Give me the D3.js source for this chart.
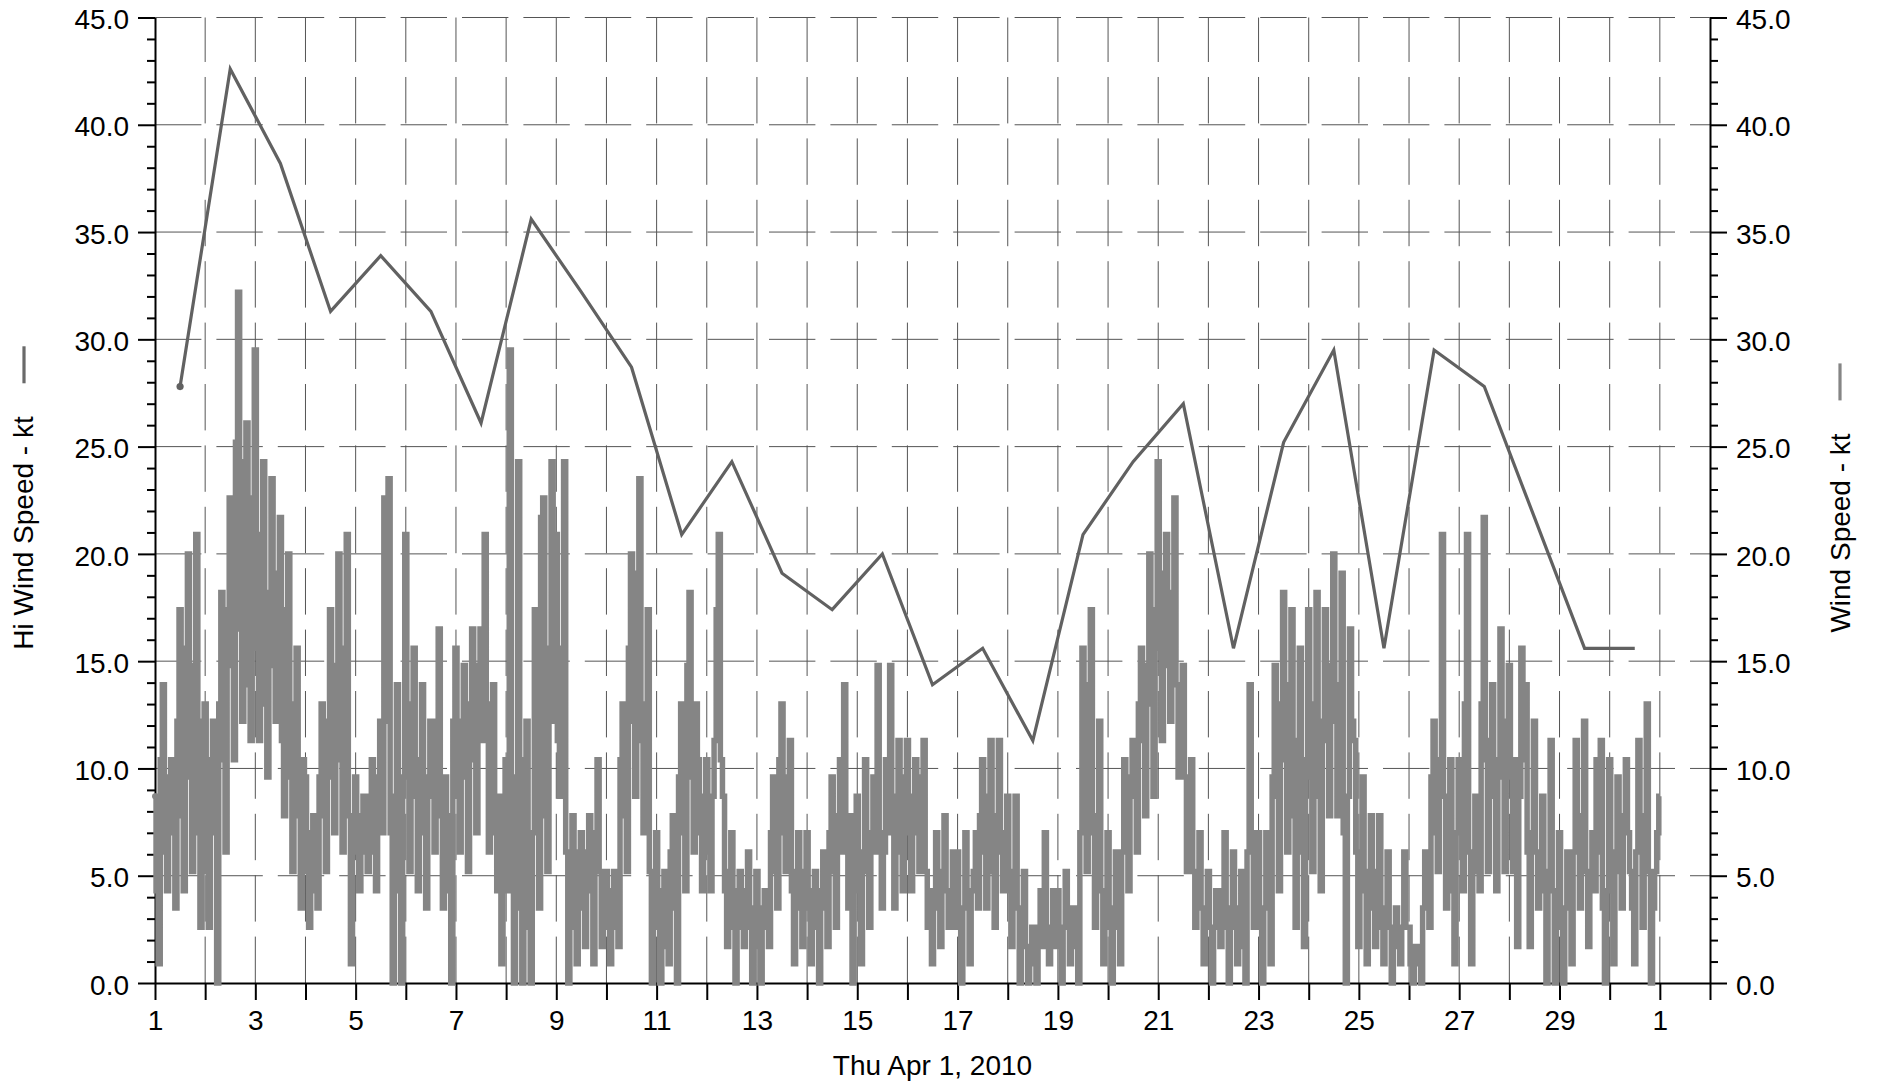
<!DOCTYPE html>
<html>
<head>
<meta charset="utf-8">
<script src="https://cdn.jsdelivr.net/npm/d3@7"></script>
<style>
  body { margin: 0; background: #fff; }
  svg { display: block; font-family: "Liberation Sans", Arial, sans-serif; }
</style>
</head>
<body>
<div id="container"></div>
<script>
// Hi wind speed (kt), one reading per day, plotted at noon, Apr 1 - Apr 30
var hiWindDays = [1, 2, 3, 4, 5, 6, 7, 8, 9, 10, 11, 12, 13, 14, 15,
                  16, 17, 18, 19, 20, 21, 22, 23, 24, 25, 26, 27, 28, 29, 30];
var hiWindSpeed = [27.8, 42.6, 38.2, 31.3, 33.9, 31.3, 26.1, 35.6, 32.2, 28.7,
                   20.9, 24.3, 19.1, 17.4, 20.0, 13.9, 15.6, 11.3, 20.9, 24.3,
                   27.0, 15.6, 25.2, 29.5, 15.6, 29.5, 27.8, 21.7, 15.6, 15.6];

// Wind speed (kt), hourly from Apr 1 00:00 to May 1 00:00 (one row per day)
var windStepHours = 1;
var windSpeed = [
  8.7, 4.3, 0.9, 10.4, 13.9, 6.1, 4.3, 9.6, 10.4, 7.0, 3.5, 12.2, 17.4, 7.8, 4.3, 15.6, 20.0, 9.6, 5.2, 14.8, 20.9, 7.0, 2.6, 12.2,
  13.0, 5.2, 2.6, 10.4, 12.2, 7.0, 0, 13.0, 18.2, 10.4, 6.1, 17.4, 22.6, 14.8, 10.4, 25.2, 32.2, 16.5, 12.2, 24.3, 26.1, 13.9, 11.3, 22.6,
  29.5, 15.6, 11.3, 20.9, 24.3, 13.0, 9.6, 18.2, 23.5, 14.8, 12.2, 19.1, 21.7, 11.3, 7.8, 17.4, 20.0, 9.6, 5.2, 13.0, 15.6, 7.8, 3.5, 10.4,
  9.6, 5.2, 2.6, 7.0, 7.8, 4.3, 3.5, 9.6, 13.0, 7.8, 5.2, 12.2, 17.4, 9.6, 7.0, 14.8, 20.0, 10.4, 6.1, 15.6, 20.9, 7.8, 0.9, 6.1,
  9.6, 6.1, 4.3, 7.8, 8.7, 6.1, 5.2, 8.7, 10.4, 6.1, 4.3, 9.6, 12.2, 7.0, 22.6, 12.2, 23.5, 7.0, 0, 8.7, 13.9, 4.3, 0, 9.6,
  20.9, 10.4, 5.2, 13.0, 15.6, 8.7, 4.3, 10.4, 13.9, 7.0, 3.5, 9.6, 12.2, 8.7, 6.1, 12.2, 16.5, 7.8, 3.5, 9.6, 7.8, 4.3, 0, 12.2,
  15.6, 8.7, 6.1, 12.2, 14.8, 9.6, 5.2, 13.0, 16.5, 10.4, 7.0, 14.8, 16.5, 11.3, 20.9, 13.0, 6.1, 10.4, 13.9, 7.0, 4.3, 8.7, 0.9, 7.0,
  10.4, 4.3, 29.5, 7.0, 0, 9.6, 24.3, 3.5, 0, 10.4, 12.2, 2.6, 0, 7.0, 17.4, 8.7, 3.5, 21.7, 22.6, 7.8, 5.2, 15.6, 24.3, 12.2,
  20.9, 11.3, 8.7, 15.6, 24.3, 6.1, 0, 5.2, 7.8, 2.6, 0.9, 6.1, 7.0, 3.5, 1.7, 6.1, 7.8, 4.3, 0.9, 7.0, 10.4, 5.2, 1.7, 4.3,
  5.2, 2.6, 0.9, 4.3, 5.2, 2.6, 1.7, 10.4, 13.0, 7.8, 5.2, 15.6, 20.0, 12.2, 8.7, 19.1, 23.5, 11.3, 7.0, 13.0, 17.4, 5.2, 0, 3.5,
  7.0, 2.6, 0, 4.3, 5.2, 1.7, 0.9, 6.1, 7.8, 3.5, 0, 9.6, 13.0, 7.0, 4.3, 14.8, 18.2, 9.6, 6.1, 13.0, 10.4, 7.0, 4.3, 8.7,
  10.4, 6.1, 4.3, 8.7, 11.3, 17.4, 20.9, 10.4, 8.7, 4.3, 1.7, 5.2, 7.0, 2.6, 0, 4.3, 5.2, 2.6, 1.7, 4.3, 6.1, 2.6, 0, 3.5,
  5.2, 1.7, 0, 3.5, 4.3, 2.6, 1.7, 7.0, 9.6, 5.2, 3.5, 10.4, 13.0, 7.0, 5.2, 9.6, 11.3, 4.3, 0.9, 5.2, 7.0, 3.5, 1.7, 5.2,
  7.0, 3.5, 0.9, 4.3, 5.2, 2.6, 0, 4.3, 6.1, 3.5, 1.7, 7.0, 9.6, 5.2, 2.6, 7.8, 10.4, 6.1, 13.9, 7.0, 3.5, 7.8, 0, 5.2,
  8.7, 4.3, 0.9, 6.1, 10.4, 5.2, 2.6, 7.0, 9.6, 6.1, 14.8, 7.0, 3.5, 6.1, 10.4, 7.0, 14.8, 7.8, 3.5, 8.7, 11.3, 6.1, 4.3, 9.6,
  11.3, 7.0, 4.3, 8.7, 10.4, 7.0, 5.2, 9.6, 11.3, 5.2, 2.6, 4.3, 0.9, 3.5, 7.0, 3.5, 1.7, 5.2, 7.8, 4.3, 2.6, 4.3, 6.1, 2.6,
  6.1, 2.6, 0, 3.5, 7.0, 3.5, 0.9, 4.3, 5.2, 7.0, 3.5, 7.8, 10.4, 6.1, 3.5, 8.7, 11.3, 5.2, 2.6, 7.8, 11.3, 6.1, 4.3, 7.0,
  8.7, 4.3, 1.7, 5.2, 8.7, 3.5, 0, 2.6, 5.2, 1.7, 0, 1.7, 2.6, 0.9, 0, 2.6, 4.3, 1.7, 7.0, 2.6, 0.9, 2.6, 4.3, 1.7,
  4.3, 1.7, 0, 2.6, 5.2, 2.6, 0.9, 3.5, 3.5, 1.7, 0, 7.0, 15.6, 9.6, 5.2, 13.9, 17.4, 7.0, 2.6, 7.8, 12.2, 4.3, 0.9, 4.3,
  7.0, 2.6, 0, 3.5, 6.1, 2.6, 0.9, 6.1, 10.4, 7.0, 4.3, 9.6, 11.3, 8.7, 6.1, 13.0, 15.6, 11.3, 7.8, 14.8, 20.0, 13.0, 8.7, 17.4,
  24.3, 15.6, 11.3, 19.1, 20.9, 14.8, 12.2, 18.2, 22.6, 13.9, 9.6, 13.0, 14.8, 9.6, 5.2, 8.7, 10.4, 5.2, 2.6, 5.2, 7.0, 3.5, 0.9, 3.5,
  5.2, 2.6, 0, 2.6, 4.3, 2.6, 1.7, 4.3, 7.0, 2.6, 0, 3.5, 6.1, 2.6, 0.9, 3.5, 5.2, 1.7, 0, 6.1, 13.9, 7.0, 2.6, 5.2,
  7.0, 2.6, 0, 3.5, 7.0, 3.5, 0.9, 9.6, 14.8, 8.7, 4.3, 13.0, 18.2, 10.4, 6.1, 13.9, 17.4, 7.8, 2.6, 11.3, 15.6, 6.1, 1.7, 10.4,
  17.4, 9.6, 5.2, 13.0, 18.2, 8.7, 4.3, 12.2, 17.4, 11.3, 7.8, 14.8, 20.0, 12.2, 7.8, 13.9, 19.1, 7.0, 0, 8.7, 16.5, 12.2, 11.3, 6.1,
  1.7, 6.1, 9.6, 4.3, 0.9, 5.2, 7.8, 3.5, 1.7, 5.2, 7.8, 2.6, 0.9, 3.5, 6.1, 2.6, 0, 1.7, 3.5, 1.7, 0.9, 2.6, 6.1, 2.6,
  2.6, 0.9, 0, 1.7, 1.7, 0.9, 0, 3.5, 6.1, 4.3, 2.6, 9.6, 12.2, 7.0, 5.2, 10.4, 20.9, 8.7, 3.5, 7.8, 10.4, 4.3, 0.9, 7.0,
  10.4, 7.0, 4.3, 13.0, 20.9, 6.1, 0.9, 5.2, 8.7, 6.1, 4.3, 13.0, 21.7, 10.4, 5.2, 11.3, 13.9, 8.7, 4.3, 10.4, 16.5, 9.6, 5.2, 12.2,
  14.8, 9.6, 5.2, 10.4, 1.7, 8.7, 15.6, 10.4, 13.9, 6.1, 1.7, 7.0, 12.2, 6.1, 3.5, 6.1, 8.7, 4.3, 0, 5.2, 11.3, 4.3, 0, 3.5,
  7.0, 2.6, 0, 3.5, 6.1, 3.5, 0.9, 6.1, 11.3, 6.1, 3.5, 7.8, 12.2, 5.2, 1.7, 4.3, 7.0, 4.3, 10.4, 6.1, 11.3, 3.5, 0, 4.3,
  10.4, 5.2, 0.9, 6.1, 9.6, 5.2, 3.5, 7.8, 10.4, 7.0, 5.2, 3.5, 0.9, 6.1, 11.3, 6.1, 2.6, 7.8, 13.0, 5.2, 0, 3.5, 5.2, 7.0,
  8.7
];

// Tick values and labels
var yTickValues = [0, 5, 10, 15, 20, 25, 30, 35, 40, 45];
var xAxisTitle = "Thu Apr 1, 2010";
var leftTitle = "Hi Wind Speed - kt";
var rightTitle = "Wind Speed - kt";

// Size of the SVG and of the plot box
var width = 1877;
var height = 1088;
var plotLeft = 155, plotRight = 1710, plotTop = 17.5, plotBottom = 983;

var startDate = new Date(2010, 3, 1);
var endDate = new Date(2010, 4, 2);

var x = d3.scaleTime().domain([startDate, endDate]).range([plotLeft, plotRight]);
var y = d3.scaleLinear().domain([0, 45]).range([plotBottom, plotTop]);

var svg = d3.select("#container")
    .append("svg")
    .attr("width", width)
    .attr("height", height);

// Dashed grid
var grid = svg.append("g").attr("stroke", "#555").attr("stroke-width", 1)
    .attr("stroke-dasharray", "46.4 15").attr("fill", "none");

grid.selectAll("line.h")
    .data(yTickValues.filter(function(d) { return d > 0; }))
    .enter()
    .append("line")
    .attr("class", "h")
    .attr("x1", plotLeft).attr("x2", plotRight)
    .attr("y1", function(d) { return y(d); })
    .attr("y2", function(d) { return y(d); });

grid.selectAll("line.v")
    .data(d3.timeDay.range(d3.timeDay.offset(startDate, 1), endDate))
    .enter()
    .append("line")
    .attr("class", "v")
    .attr("x1", function(d) { return x(d); })
    .attr("x2", function(d) { return x(d); })
    .attr("y1", plotBottom).attr("y2", plotTop);

// Axes
function styleAxis(g) {
    g.selectAll("path.domain").attr("stroke", "#000").attr("stroke-width", 2);
    g.selectAll(".tick line").attr("stroke", "#000").attr("stroke-width", 2);
    g.selectAll(".tick text").attr("fill", "#000").attr("font-size", 28)
        .attr("font-family", "'Liberation Sans', Arial, sans-serif");
}

var minorY = d3.range(0, 46).filter(function(d) { return d % 5 !== 0; });

// left
var leftMinor = svg.append("g").attr("transform", "translate(" + plotLeft + ",0)")
    .call(d3.axisLeft(y).tickValues(minorY).tickSize(8).tickFormat(""));
leftMinor.select("path.domain").remove();
styleAxis(leftMinor);
var leftAxis = svg.append("g").attr("transform", "translate(" + plotLeft + ",0)")
    .call(d3.axisLeft(y).tickValues(yTickValues).tickSize(17).tickSizeOuter(0)
        .tickPadding(9).tickFormat(d3.format(".1f")));
styleAxis(leftAxis);
leftAxis.selectAll(".tick text").attr("dy", "0.4em");

// right
var rightMinor = svg.append("g").attr("transform", "translate(" + plotRight + ",0)")
    .call(d3.axisRight(y).tickValues(minorY).tickSize(8).tickFormat(""));
rightMinor.select("path.domain").remove();
styleAxis(rightMinor);
var rightAxis = svg.append("g").attr("transform", "translate(" + plotRight + ",0)")
    .call(d3.axisRight(y).tickValues(yTickValues).tickSize(17).tickSizeOuter(0)
        .tickPadding(9).tickFormat(d3.format(".1f")));
styleAxis(rightAxis);
rightAxis.selectAll(".tick text").attr("dy", "0.4em");

// bottom: a tick every day, date label every other day
var bottomAxis = svg.append("g").attr("transform", "translate(0," + plotBottom + ")")
    .call(d3.axisBottom(x).ticks(d3.timeDay.every(1)).tickSize(17).tickSizeOuter(0)
        .tickPadding(10)
        .tickFormat(function(d, i) { return i % 2 === 0 ? d.getDate() : ""; }));
styleAxis(bottomAxis);

// Wind speed series (hourly), drawn as held readings so it reads as solid bars
var windLine = d3.line()
    .curve(d3.curveStep)
    .x(function(d, i) { return x(d3.timeHour.offset(startDate, i * windStepHours)); })
    .y(function(d) { return y(d); });

svg.append("path")
    .datum(windSpeed)
    .attr("fill", "none")
    .attr("stroke", "#858585")
    .attr("stroke-width", 5.5)
    .attr("stroke-linejoin", "miter")
    .attr("d", windLine);

svg.append("circle")
    .attr("cx", x(startDate)).attr("cy", y(windSpeed[0]))
    .attr("r", 3).attr("fill", "#858585");

// Hi wind speed series (daily)
function hiDate(day) {
    return d3.timeHour.offset(d3.timeDay.offset(startDate, day - 1), 12);
}
var hiLine = d3.line()
    .x(function(d, i) { return x(hiDate(hiWindDays[i])); })
    .y(function(d) { return y(d); });

svg.append("path")
    .datum(hiWindSpeed)
    .attr("fill", "none")
    .attr("stroke", "#616161")
    .attr("stroke-width", 3.2)
    .attr("d", hiLine);

svg.append("circle")
    .attr("cx", x(hiDate(hiWindDays[0]))).attr("cy", y(hiWindSpeed[0]))
    .attr("r", 3.6).attr("fill", "#616161");

// Axis titles
svg.append("text")
    .attr("x", (plotLeft + plotRight) / 2)
    .attr("y", 1075)
    .attr("text-anchor", "middle")
    .attr("font-size", 28)
    .attr("fill", "#000")
    .text(xAxisTitle);

function sideTitle(label, xBase, xSym, symColor) {
    var t = svg.append("text").attr("font-size", 28).attr("fill", "#000").text(label);
    var len = t.node().getComputedTextLength();
    var symLen = 37, gap = 33;
    var total = symLen + gap + len;
    var top = 498 - total / 2;
    t.attr("transform", "translate(" + xBase + "," + (498 + total / 2) + ") rotate(-90)");
    svg.append("line")
        .attr("x1", xSym).attr("x2", xSym)
        .attr("y1", top).attr("y2", top + symLen)
        .attr("stroke", symColor).attr("stroke-width", 3.2);
}
sideTitle(leftTitle, 33, 24, "#6a6a6a");
sideTitle(rightTitle, 1850, 1840, "#858585");
</script>
</body>
</html>
